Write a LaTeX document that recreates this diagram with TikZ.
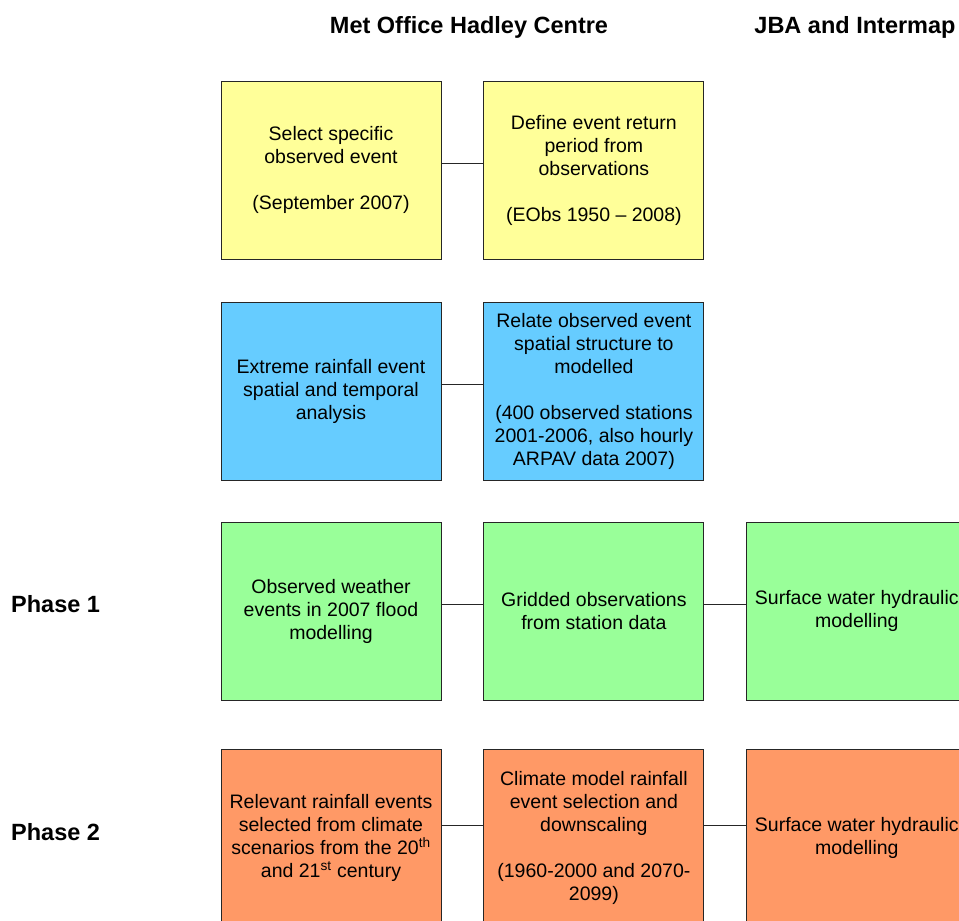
\documentclass[tikz,border=0pt]{standalone}
\usepackage{fontspec}
\setmainfont{Liberation Sans}
\usetikzlibrary{positioning}
\definecolor{obsyellow}{HTML}{FFFF99}
\definecolor{anablue}{HTML}{66CCFF}
\definecolor{phonegreen}{HTML}{99FF99}
\definecolor{phtwoorange}{HTML}{FF9966}
\tikzset{
  stagebox/.style={draw=black!85, line width=0.9pt, minimum width=220pt, minimum height=178pt,
    inner sep=0pt, align=center, font=\fontsize{19.5}{23}\selectfont},
  heading/.style={anchor=base, inner sep=0pt, font=\fontsize{23.5}{28}\selectfont\bfseries},
  link/.style={draw=black!85, line width=0.9pt},
}
\begin{document}
\begin{tikzpicture}[x=1pt,y=-1pt]
\useasboundingbox (0,0) rectangle (959,921);
\clip (0,0) rectangle (959,921);
% headings
\node[heading] (mohc) at (469,33) {Met Office Hadley Centre};
\node[heading] (jba) at (855,33) {JBA and Intermap};
\node[heading, anchor=base west] (ph1) at (11,612) {Phase 1};
\node[heading, anchor=base west] (ph2) at (11,840) {Phase 2};
%
% observed event
\node[stagebox, fill=obsyellow] (sel) at (331,170) {Select specific\\observed event\\[23pt](September 2007)};
\node[stagebox, fill=obsyellow, right=42pt of sel] (ret) {Define event return\\period from\\observations\\[23pt](EObs 1950 -- 2008)};
%
% spatial analysis
\node[stagebox, fill=anablue] (ext) at (331,391) {Extreme rainfall event\\spatial and temporal\\analysis};
\node[stagebox, fill=anablue, right=42pt of ext] (rel) {Relate observed event\\spatial structure to\\modelled\\[23pt](400 observed stations\\2001-2006, also hourly\\ARPAV data 2007)};
%
% phase 1
\node[stagebox, fill=phonegreen] (obs) at (331,611) {Observed weather\\events in 2007 flood\\modelling};
\node[stagebox, fill=phonegreen, right=42pt of obs] (grid) {Gridded observations\\from station data};
\node[stagebox, fill=phonegreen, right=42pt of grid] (swone) {Surface water hydraulic\\modelling};
%
% phase 2
\node[stagebox, fill=phtwoorange] (relev) at (331,838) {Relevant rainfall events\\selected from climate\\scenarios from the 20\textsuperscript{th}\\and 21\textsuperscript{st} century};
\node[stagebox, fill=phtwoorange, right=42pt of relev] (clim) {Climate model rainfall\\event selection and\\downscaling\\[23pt](1960-2000 and 2070-\\2099)};
\node[stagebox, fill=phtwoorange, right=42pt of clim] (swtwo) {Surface water hydraulic\\modelling};
%
% links
\draw[link] ([yshift=7pt]sel.east) -- ([yshift=7pt]ret.west);
\draw[link] ([yshift=7pt]ext.east) -- ([yshift=7pt]rel.west);
\draw[link] ([yshift=7pt]obs.east) -- ([yshift=7pt]grid.west);
\draw[link] ([yshift=7pt]grid.east) -- ([yshift=7pt]swone.west);
\draw[link] ([yshift=13pt]relev.east) -- ([yshift=13pt]clim.west);
\draw[link] ([yshift=13pt]clim.east) -- ([yshift=13pt]swtwo.west);
\end{tikzpicture}
\end{document}
